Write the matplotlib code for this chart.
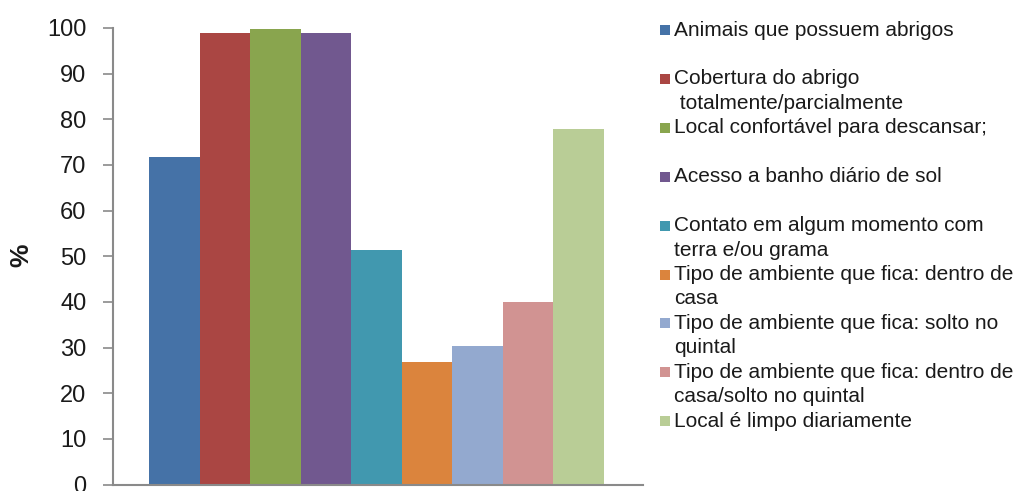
import matplotlib
matplotlib.use("Agg")
import matplotlib.pyplot as plt
from matplotlib.patches import Rectangle
import numpy as np

plt.rcParams['font.family'] = ['Liberation Sans', 'DejaVu Sans']

categories = [
    "Animais que possuem abrigos",
    "Cobertura do abrigo\n totalmente/parcialmente",
    "Local confortável para descansar;",
    "Acesso a banho diário de sol",
    "Contato em algum momento com\nterra e/ou grama",
    "Tipo de ambiente que fica: dentro de\ncasa",
    "Tipo de ambiente que fica: solto no\nquintal",
    "Tipo de ambiente que fica: dentro de\ncasa/solto no quintal",
    "Local é limpo diariamente",
]
values = [71.7, 98.9, 99.8, 98.9, 51.4, 26.8, 30.3, 40.0, 77.8]
colors = ["#4572A7", "#AA4643", "#89A54E", "#71588F", "#4198AF",
          "#DB843D", "#93A9CF", "#D19392", "#B9CD96"]
yticks = [0, 10, 20, 30, 40, 50, 60, 70, 80, 90, 100]

W, H = 1020, 491
fig = plt.figure(figsize=(W / 100, H / 100), dpi=100)
ax = fig.add_axes([113 / W, (H - 484.5) / H, (643 - 113) / W, (484.5 - 28) / H])

x = np.arange(len(values))
ax.bar(x, values, width=1.0, color=colors, edgecolor="none", zorder=2)

ax.set_xlim(-1.212, 9.271)
ax.set_ylim(0, 100)
ax.set_yticks(yticks)
ax.set_yticklabels([str(t) for t in yticks], fontsize=17, color="#1a1a1a")
ax.set_xticks([])
for s in ["top", "right"]:
    ax.spines[s].set_visible(False)
for s in ["left", "bottom"]:
    ax.spines[s].set_color("#8a8a8a")
    ax.spines[s].set_linewidth(1.5)
ax.tick_params(axis="y", length=7, width=1.2, color="#8a8a8a", pad=12)
ax.set_ylabel("%", fontsize=19, fontweight="bold", color="#1a1a1a")
ax.yaxis.label.set_verticalalignment("center")
ax.yaxis.set_label_coords((21.7 - 113) / (643 - 113), (484.5 - 255) / (484.5 - 28))

# Legend drawn manually to mimic the Excel layout
y0 = 30.0
step = 48.9
line_h = 24.4
for i, (lab, col) in enumerate(zip(categories, colors)):
    yc = y0 + i * step
    fig.add_artist(Rectangle(((660) / W, 1 - (yc + 5) / H), 10 / W, 10 / H,
                             transform=fig.transFigure, facecolor=col,
                             edgecolor="none"))
    for j, line in enumerate(lab.split("\n")):
        fig.text(674 / W, 1 - (yc + j * line_h) / H, line, fontsize=15,
                 va="center", ha="left", color="#1a1a1a")

fig.savefig("out.png", dpi=100)
